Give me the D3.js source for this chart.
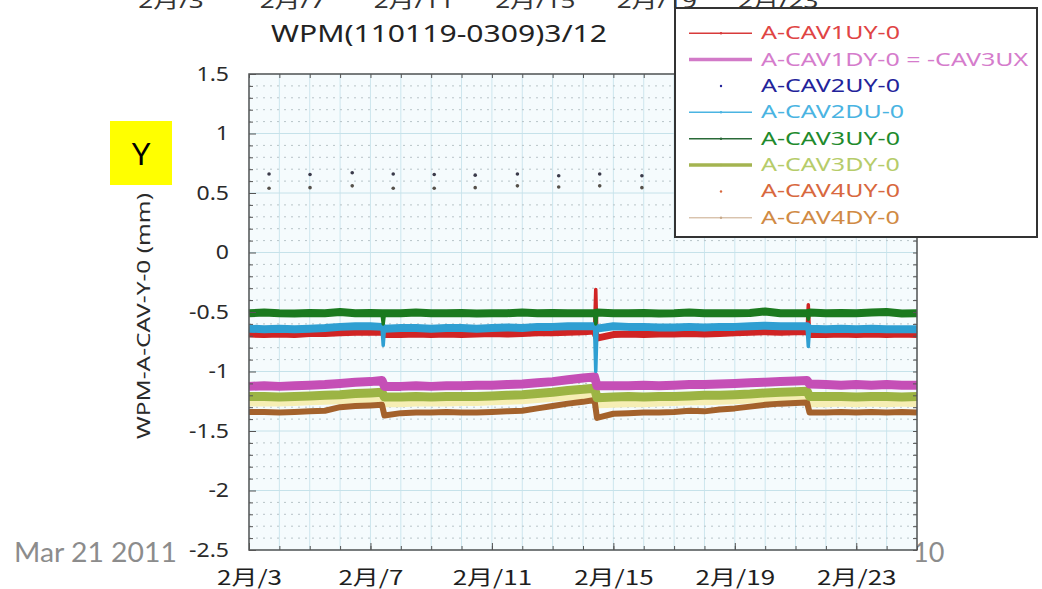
<!DOCTYPE html>
<html>
<head>
<meta charset="utf-8">
<script src="https://cdn.jsdelivr.net/npm/d3@7"></script>
<style>
  body { margin: 0; background: #fff; }
  svg { display: block; font-family: "Noto Sans", "Noto Sans CJK JP", sans-serif; }
</style>
</head>
<body>
<svg id="chart" width="1042" height="589"></svg>
<script>
// days after 2011-02-03 (shared by every line series)
const days = [0, 0.5, 1, 1.5, 2, 2.5, 3, 3.5, 4, 4.38, 4.42, 4.46,
  5, 5.5, 6, 6.5, 7, 7.5, 8, 8.5, 9, 9.5, 10, 10.5, 11, 11.38, 11.42, 11.46,
  12, 12.5, 13, 13.5, 14, 14.5, 15, 15.5, 16, 16.5, 17, 17.5, 18, 18.38, 18.42, 18.46,
  19, 19.5, 20, 20.5, 21, 21.5, 22];
// moments of the short spikes
const spikeDays = [4.42, 11.42, 18.42];

const cav1uy = [-0.685, -0.69, -0.685, -0.69, -0.68, -0.68, -0.675, -0.67, -0.67, -0.67, -0.68, -0.69,
  -0.69, -0.685, -0.69, -0.685, -0.69, -0.685, -0.68, -0.685, -0.68, -0.675, -0.675, -0.67, -0.665, -0.66, -0.31, -0.72,
  -0.69, -0.685, -0.69, -0.685, -0.685, -0.68, -0.685, -0.68, -0.675, -0.67, -0.665, -0.67, -0.665, -0.665, -0.44, -0.69,
  -0.69, -0.685, -0.69, -0.685, -0.69, -0.685, -0.69];
const cav1dy = [-1.125, -1.12, -1.125, -1.12, -1.115, -1.11, -1.1, -1.09, -1.085, -1.075, -1.1, -1.125,
  -1.125, -1.12, -1.125, -1.12, -1.12, -1.115, -1.115, -1.11, -1.105, -1.095, -1.085, -1.07, -1.055, -1.045, -1.09, -1.12,
  -1.12, -1.12, -1.115, -1.12, -1.115, -1.11, -1.11, -1.105, -1.1, -1.095, -1.09, -1.085, -1.08, -1.075, -1.09, -1.105,
  -1.11, -1.115, -1.11, -1.115, -1.11, -1.115, -1.115];
const cav2du = [-0.64, -0.645, -0.64, -0.645, -0.64, -0.635, -0.625, -0.62, -0.62, -0.625, -0.78, -0.64,
  -0.635, -0.635, -0.64, -0.635, -0.635, -0.64, -0.635, -0.63, -0.635, -0.625, -0.625, -0.62, -0.62, -0.62, -1.0, -0.64,
  -0.62, -0.625, -0.625, -0.63, -0.63, -0.625, -0.63, -0.625, -0.625, -0.62, -0.615, -0.62, -0.62, -0.62, -0.79, -0.64,
  -0.645, -0.64, -0.645, -0.64, -0.645, -0.645, -0.645];
const cav3uy = [-0.51, -0.505, -0.51, -0.512, -0.508, -0.51, -0.5, -0.51, -0.508, -0.51, -0.6, -0.51,
  -0.51, -0.505, -0.51, -0.51, -0.508, -0.512, -0.51, -0.51, -0.505, -0.51, -0.508, -0.51, -0.51, -0.51, -0.6, -0.505,
  -0.51, -0.51, -0.508, -0.512, -0.51, -0.505, -0.51, -0.51, -0.51, -0.508, -0.495, -0.51, -0.51, -0.51, -0.56, -0.505,
  -0.51, -0.508, -0.51, -0.505, -0.5, -0.512, -0.51];
const cav3dy = [-1.21, -1.21, -1.215, -1.21, -1.205, -1.2, -1.195, -1.185, -1.18, -1.175, -1.2, -1.215,
  -1.215, -1.21, -1.215, -1.21, -1.21, -1.21, -1.205, -1.2, -1.195, -1.185, -1.175, -1.16, -1.15, -1.14, -1.2, -1.22,
  -1.215, -1.21, -1.215, -1.21, -1.21, -1.205, -1.2, -1.2, -1.195, -1.19, -1.18, -1.175, -1.17, -1.165, -1.19, -1.21,
  -1.21, -1.21, -1.215, -1.21, -1.21, -1.215, -1.21];
const paleBand = [-1.265, -1.265, -1.265, -1.26, -1.255, -1.25, -1.245, -1.24, -1.235, -1.23, -1.25, -1.27,
  -1.27, -1.265, -1.265, -1.265, -1.26, -1.26, -1.255, -1.25, -1.245, -1.235, -1.225, -1.215, -1.205, -1.2, -1.25, -1.28,
  -1.275, -1.27, -1.27, -1.265, -1.26, -1.255, -1.255, -1.25, -1.245, -1.24, -1.235, -1.23, -1.225, -1.22, -1.25, -1.27,
  -1.27, -1.265, -1.27, -1.265, -1.27, -1.265, -1.27];
const cav4dy = [-1.34, -1.34, -1.345, -1.34, -1.335, -1.33, -1.3, -1.29, -1.285, -1.28, -1.33, -1.37,
  -1.35, -1.345, -1.345, -1.34, -1.345, -1.345, -1.34, -1.335, -1.33, -1.31, -1.29, -1.27, -1.255, -1.24, -1.3, -1.39,
  -1.355, -1.35, -1.345, -1.345, -1.34, -1.33, -1.335, -1.32, -1.31, -1.295, -1.28, -1.27, -1.265, -1.26, -1.3, -1.345,
  -1.345, -1.34, -1.345, -1.34, -1.345, -1.34, -1.345];

// sparse dot series
const dotDays = [0.66, 2.01, 3.4, 4.75, 6.1, 7.45, 8.84, 10.2, 11.55, 12.94, 14.3, 15.7, 17.05, 18.4, 19.75, 21.1];
const cav2uy = [0.66, 0.655, 0.67, 0.66, 0.655, 0.65, 0.66, 0.645, 0.66, 0.645, 0.66, 0.655, 0.66, 0.65, 0.66, 0.655];
const cav4uy = [0.54, 0.545, 0.56, 0.54, 0.54, 0.545, 0.56, 0.55, 0.56, 0.545, 0.55, 0.545, 0.55, 0.545, 0.55, 0.545];

const yMajor = [-2.5, -2, -1.5, -1, -0.5, 0, 0.5, 1, 1.5];
const xTickDays = [0, 4, 8, 12, 16, 20];
const legendNames = ["A-CAV1UY-0", "A-CAV1DY-0 = -CAV3UX", "A-CAV2UY-0", "A-CAV2DU-0",
  "A-CAV3UY-0", "A-CAV3DY-0", "A-CAV4UY-0", "A-CAV4DY-0"];

const base = new Date(2011, 1, 3);
const toDate = d => new Date(base.getTime() + d * 864e5);

// widen text like the wide Mac font of the original
function stretch(sel, f) {
  sel.each(function () {
    let len = this.getComputedTextLength();
    d3.select(this).attr("textLength", len * f).attr("lengthAdjust", "spacingAndGlyphs");
  });
}

const svg = d3.select("#chart");

// slide texts behind the chart
svg.append("text").attr("x", 913).attr("y", 562)
  .attr("font-family", "Lato, 'Open Sans', sans-serif").attr("font-size", 27)
  .attr("fill", "#8c8c8c").text("10");
let dateTxt = svg.append("text").attr("x", 14).attr("y", 562)
  .attr("font-family", "Lato, 'Open Sans', sans-serif").attr("font-size", 27)
  .attr("fill", "#8c8c8c").text("Mar 21 2011");
stretch(dateTxt, 1.05);

// scales
let x = d3.scaleTime().domain([toDate(0), toDate(22)]).range([249, 917]);
let y = d3.scaleLinear().domain([-2.5, 1.5]).range([550, 74]);

// cut-off axis labels of the chart above
let xPrev = d3.scaleTime().domain([toDate(0), toDate(22)]).range([171, 839]);
let prevLabels = svg.append("g").selectAll("text").data(xTickDays).join("text")
  .attr("x", d => xPrev(toDate(d))).attr("y", 8)
  .attr("text-anchor", "middle").attr("font-size", 20).attr("fill", "#333")
  .text(d => "2月/" + toDate(d).getDate());
stretch(prevLabels, 1.3);

// title
let title = svg.append("text").attr("x", 439).attr("y", 42).attr("text-anchor", "middle")
  .attr("font-size", 24).attr("fill", "#222").text("WPM(110119-0309)3/12");
title.attr("textLength", 336).attr("lengthAdjust", "spacingAndGlyphs");

// plot background
svg.append("rect").attr("x", 249).attr("y", 74).attr("width", 668).attr("height", 476)
  .attr("fill", "#f5fbfd");

// grid
let dayTicks = d3.range(0, 23).map(toDate);
svg.append("g").selectAll("line").data(dayTicks).join("line")
  .attr("x1", d => x(d)).attr("x2", d => x(d)).attr("y1", 74).attr("y2", 550)
  .attr("stroke", "#cde6ee").attr("stroke-width", 1);
let yMinor = d3.range(-25, 16).map(v => v / 10).filter(v => Math.abs(v * 2 - Math.round(v * 2)) > 1e-6);
svg.append("g").selectAll("line").data(yMinor).join("line")
  .attr("x1", 249).attr("x2", 917).attr("y1", d => y(d)).attr("y2", d => y(d))
  .attr("stroke", "#b8c4c8").attr("stroke-width", 1).attr("stroke-dasharray", "2,5");
svg.append("g").selectAll("line").data(yMajor).join("line")
  .attr("x1", 249).attr("x2", 917).attr("y1", d => y(d)).attr("y2", d => y(d))
  .attr("stroke", "#c6e2ea").attr("stroke-width", 1);

// dots
svg.append("g").selectAll("circle").data(dotDays).join("circle")
  .attr("cx", d => x(toDate(d))).attr("cy", (d, i) => y(cav2uy[i])).attr("r", 1.8).attr("fill", "#3a3a4a");
svg.append("g").selectAll("circle").data(dotDays).join("circle")
  .attr("cx", d => x(toDate(d))).attr("cy", (d, i) => y(cav4uy[i])).attr("r", 1.8).attr("fill", "#55504a");

// line series: thick noisy band without spikes, thin trace with spikes
let series = [
  { v: paleBand, color: "#f6eeb4", w: 7 },
  { v: cav4dy, color: "#a4622c", w: 6 },
  { v: cav3dy, color: "#9cb444", w: 9 },
  { v: cav1dy, color: "#c54fb6", w: 9 },
  { v: cav1uy, color: "#d02424", w: 7 },
  { v: cav2du, color: "#2f9fd2", w: 8 },
  { v: cav3uy, color: "#1b7a1f", w: 8 }
];
let line = d3.line().x(d => x(toDate(d[0]))).y(d => y(d[1]));
series.forEach(s => {
  let pts = days.map((d, i) => [d, s.v[i]]);
  svg.append("path")
    .attr("d", line(pts.filter(p => !spikeDays.includes(p[0]))))
    .attr("fill", "none").attr("stroke", s.color).attr("stroke-width", s.w)
    .attr("stroke-linejoin", "round");
  svg.append("path")
    .attr("d", line(pts))
    .attr("fill", "none").attr("stroke", s.color).attr("stroke-width", 3.5)
    .attr("stroke-linejoin", "round");
});

// axes (ticks inward)
let yAxis = d3.axisLeft(y).tickValues(yMajor).tickSize(-7).tickPadding(20)
  .tickFormat(d => d);
let gy = svg.append("g").attr("transform", "translate(249,0)").call(yAxis);
let gyMinor = svg.append("g").attr("transform", "translate(249,0)")
  .call(d3.axisLeft(y).tickValues(yMinor).tickSize(-4).tickFormat(""));
let gyR = svg.append("g").attr("transform", "translate(917,0)")
  .call(d3.axisRight(y).tickValues(d3.range(-25, 16).map(v => v / 10)).tickSize(-4).tickFormat(""));
let xAxis = d3.axisBottom(x).tickValues(xTickDays.map(toDate)).tickSize(-7).tickPadding(21)
  .tickFormat(d => "2月/" + d.getDate());
let gx = svg.append("g").attr("transform", "translate(0,550)").call(xAxis);
let gxMinor = svg.append("g").attr("transform", "translate(0,550)")
  .call(d3.axisBottom(x).tickValues(dayTicks).tickSize(-4).tickFormat(""));
let gxTop = svg.append("g").attr("transform", "translate(0,74)")
  .call(d3.axisTop(x).tickValues(dayTicks).tickSize(-4).tickFormat(""));
[gy, gyMinor, gyR, gx, gxMinor, gxTop].forEach(g => {
  g.select(".domain").remove();
  g.selectAll("line").attr("stroke", "#555");
});
gy.selectAll("text").attr("font-size", 20).attr("fill", "#2a2a2a").attr("font-family", "Noto Sans, sans-serif");
stretch(gy.selectAll("text"), 1.15);
gx.selectAll("text").attr("font-size", 20).attr("fill", "#1e1e1e").attr("font-family", "'Noto Sans CJK JP', sans-serif");
stretch(gx.selectAll("text"), 1.3);

// frame
svg.append("rect").attr("x", 249).attr("y", 74).attr("width", 668).attr("height", 476)
  .attr("fill", "none").attr("stroke", "#555").attr("stroke-width", 1.5);

// y label
let yLab = svg.append("text").attr("transform", "translate(150,316) rotate(-90)")
  .attr("text-anchor", "middle").attr("font-size", 18).attr("fill", "#2a2a2a")
  .text("WPM-A-CAV-Y-0 (mm)");
yLab.attr("textLength", 246).attr("lengthAdjust", "spacingAndGlyphs");

// "Y" tag
svg.append("rect").attr("x", 110).attr("y", 121).attr("width", 62).attr("height", 64).attr("fill", "#ffff00");
svg.append("text").attr("x", 141).attr("y", 165).attr("text-anchor", "middle")
  .attr("font-family", "Lato, 'Open Sans', sans-serif").attr("font-size", 30).attr("fill", "#000").text("Y");

// legend
let legendColors = ["#e04444", "#d57ccc", "#23239a", "#4ab4e2", "#218a2c", "#b6cc6a", "#d8683e", "#d08a44"];
let sampleColors = ["#d83a3a", "#d27ac8", "#23239a", "#4ab4e2", "#2a6a38", "#a4b450", "#d8683e", "#c8a888"];
let sampleWidths = [1.5, 3.5, 0, 1.5, 1.5, 3.5, 0, 1];
let legendY = d3.scaleBand().domain(d3.range(legendNames.length)).range([20, 231]);
svg.append("line").attr("x1", 675).attr("x2", 675).attr("y1", 0).attr("y2", 8).attr("stroke", "#333").attr("stroke-width", 2);
svg.append("rect").attr("x", 675).attr("y", 8).attr("width", 362).attr("height", 229)
  .attr("fill", "#fff").attr("stroke", "#333").attr("stroke-width", 2);
let lg = svg.append("g").selectAll("g").data(legendNames).join("g")
  .attr("transform", (d, i) => `translate(0,${legendY(i) + legendY.bandwidth() / 2})`);
lg.filter((d, i) => sampleWidths[i] > 0).append("line")
  .attr("x1", 689).attr("x2", 752).attr("y1", 0).attr("y2", 0)
  .attr("stroke", d => sampleColors[legendNames.indexOf(d)])
  .attr("stroke-width", d => sampleWidths[legendNames.indexOf(d)]);
lg.append("circle").attr("cx", 721).attr("cy", 0).attr("r", 1.2)
  .attr("fill", (d, i) => sampleColors[i]);
let lgText = lg.append("text").attr("x", 761).attr("y", 6).attr("font-size", 18)
  .attr("fill", (d, i) => legendColors[i]).text(d => d);
stretch(lgText, 1.39);
</script>
</body>
</html>
